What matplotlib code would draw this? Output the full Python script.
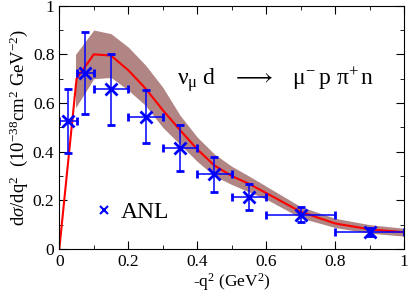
import matplotlib
matplotlib.use("Agg")
import matplotlib.pyplot as plt
from matplotlib.lines import Line2D
from matplotlib.ticker import MultipleLocator

plt.rcParams['font.family'] = ['Liberation Serif', 'DejaVu Serif']
plt.rcParams['mathtext.fontset'] = 'custom'
plt.rcParams['mathtext.rm'] = 'Liberation Serif'
plt.rcParams['mathtext.it'] = 'Liberation Serif:italic'

# theory curve
q2_line = [0, 0.05, 0.1, 0.15, 0.2, 0.25, 0.3, 0.35, 0.4, 0.45, 0.5, 0.55, 0.6, 0.7, 0.8, 0.9, 1.0]
xs_line = [0, 0.70, 0.80, 0.795, 0.735, 0.66, 0.571, 0.489, 0.41, 0.343, 0.30, 0.268, 0.23, 0.153, 0.105, 0.081, 0.069]

# uncertainty band
q2_band = [0.047, 0.1, 0.15, 0.2, 0.25, 0.3, 0.35, 0.4, 0.45, 0.5, 0.55, 0.6, 0.7, 0.8, 0.9, 1.0]
band_hi = [0.80, 0.90, 0.885, 0.83, 0.756, 0.665, 0.55, 0.46, 0.39, 0.34, 0.30, 0.258, 0.174, 0.126, 0.10, 0.085]
band_lo = [0.58, 0.70, 0.705, 0.653, 0.59, 0.50, 0.43, 0.36, 0.30, 0.265, 0.235, 0.205, 0.128, 0.088, 0.065, 0.053]

# ANL data
anl_q2 = [0.025, 0.075, 0.15, 0.25, 0.35, 0.45, 0.55, 0.7, 0.9]
anl_xs = [0.526, 0.723, 0.656, 0.544, 0.415, 0.308, 0.215, 0.14, 0.071]
anl_xerr = [0.025, 0.025, 0.05, 0.05, 0.05, 0.05, 0.05, 0.1, 0.1]
anl_yerr = [0.13, 0.167, 0.145, 0.11, 0.095, 0.072, 0.053, 0.031, 0.016]

fig = plt.figure(figsize=(4.09, 3.0), dpi=100)
ax = fig.add_axes([0.145, 0.17, 0.843, 0.811])

ax.fill_between(q2_band, band_lo, band_hi, color='#b08583', lw=0)
ax.plot(q2_line, xs_line, color='red', lw=1.5)
ax.errorbar(anl_q2, anl_xs, xerr=anl_xerr, yerr=anl_yerr, fmt='x', color='blue',
            ms=8, mew=2, elinewidth=1.1, capsize=3, capthick=1.1)

h = Line2D([], [], ls='none', marker='x', color='blue', ms=6, mew=1.5)
ax.legend([h], ['ANL'], loc='center left', bbox_to_anchor=(0.109, 0.15), frameon=False,
          fontsize=17, handletextpad=0.42, handlelength=0.6, borderpad=0, borderaxespad=0)

ax.text(0.342, 0.672,
        r'$\mathrm{\nu_{\mu}\ d\quad\longrightarrow\quad\mu^{-}\,p\ \pi^{+}\,n}$',
        fontsize=17)

ax.set_xlim(0, 1)
ax.set_ylim(0, 1)
ax.xaxis.set_minor_locator(MultipleLocator(0.1))
ax.yaxis.set_minor_locator(MultipleLocator(0.1))
ax.set_xticks([0, 0.2, 0.4, 0.6, 0.8, 1])
ax.set_xticklabels(['0', '0.2', '0.4', '0.6', '0.8', '1'])
ax.set_yticks([0, 0.2, 0.4, 0.6, 0.8, 1])
ax.set_yticklabels(['0', '0.2', '0.4', '0.6', '0.8', '1'])
ax.tick_params(which='both', direction='in', top=True, right=True, labelsize=12.5)
ax.tick_params(which='major', length=6)
ax.tick_params(which='minor', length=3)

ax.set_xlabel(r'-q$^2$ (GeV$^2$)', fontsize=12.5, labelpad=1)
ax.set_ylabel(r'd$\sigma$/dq$^2$  (10$^{-38}$cm$^2$ GeV$^{-2}$)', fontsize=13.5, labelpad=2)

fig.savefig('out.png', dpi=100)
